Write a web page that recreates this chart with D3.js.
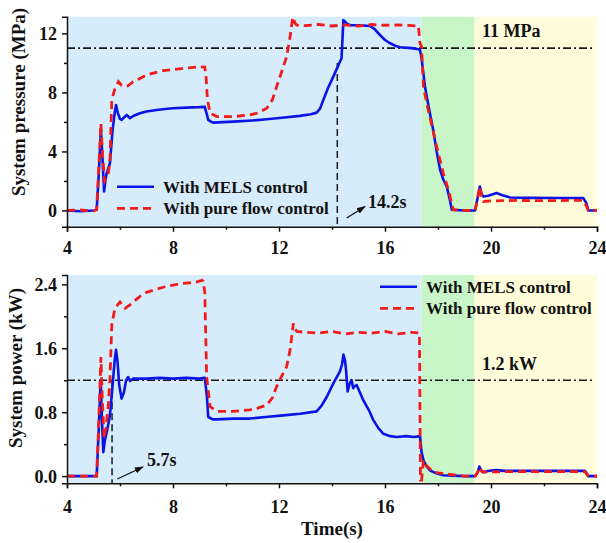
<!DOCTYPE html>
<html>
<head>
<meta charset="utf-8">
<script src="https://cdn.jsdelivr.net/npm/d3@7/dist/d3.min.js"></script>
<style>
  html, body { margin: 0; padding: 0; background: #ffffff; }
  svg text { font-family: "Liberation Serif", "Times New Roman", serif; font-weight: bold; fill: #111; }
</style>
</head>
<body>
<svg id="chart" width="606" height="543"></svg>
<script>
// ---- Time axis ----
const timeDomain = [4, 24];
const timeTicks = [4, 8, 12, 16, 20, 24];
const timeMinorTicks = [6, 10, 14, 18, 22];

// ---- Operating phases (shaded background bands) ----
const phaseStarts = [4, 17.38, 19.38];
const phaseEnds = [17.38, 19.38, 24];
const phaseColors = ["#d7ecfa", "#c9f6c9", "#fefcd9"];

// ---- System pressure (MPa) ----
const pressureTicks = [0, 4, 8, 12];
const pressureMinorTicks = [2, 6, 10];
const pressureLimit = 11;

const pressureMelsT = [4.0, 4.5, 5.0, 5.12, 5.2, 5.28, 5.34, 5.40, 5.46, 5.50, 5.62, 5.72, 5.80, 5.85, 5.92, 6.0, 6.06, 6.15, 6.25, 6.38, 6.5, 6.75, 7.0, 7.38, 7.7, 8.0, 8.5, 9.0, 9.2, 9.28, 9.33, 9.45, 9.52, 10.28, 11.0, 11.54, 12.2, 12.79, 13.2, 13.42, 13.55, 13.67, 13.85, 14.05, 14.3, 14.36, 14.43, 14.49, 14.55, 14.68, 15.0, 15.43, 15.6, 15.81, 16.0, 16.19, 16.4, 16.57, 17.0, 17.26, 17.32, 17.38, 17.51, 17.65, 17.82, 17.95, 18.08, 18.2, 18.33, 18.45, 18.52, 19.0, 19.4, 19.5, 19.58, 19.65, 19.71, 19.9, 20.21, 20.4, 20.72, 21.5, 22.5, 23.48, 23.6, 23.67, 24.0];
const pressureMels = [0, -0.05, 0, 0.05, 2.5, 5.46, 3.5, 1.29, 2.2, 2.53, 3.2, 5.46, 6.6, 7.15, 6.6, 6.2, 6.14, 6.3, 6.47, 6.25, 6.4, 6.59, 6.7, 6.81, 6.88, 6.93, 6.97, 7.0, 7.02, 6.5, 6.14, 6.0, 5.95, 6.02, 6.1, 6.18, 6.3, 6.41, 6.52, 6.63, 6.9, 7.49, 8.3, 9.07, 10.08, 10.3, 12.9, 12.8, 12.68, 12.56, 12.55, 12.5, 12.3, 11.89, 11.55, 11.33, 11.15, 11.06, 11.0, 10.92, 10.9, 10.3, 8.39, 7.0, 5.46, 4.0, 2.75, 2.1, 1.62, 0.7, 0.05, 0.0, 0.0, 0.9, 1.62, 1.1, 0.95, 1.0, 1.18, 1.05, 0.88, 0.85, 0.84, 0.84, 0.5, 0.0, 0.0];

const pressureFlowT = [4.0, 4.5, 5.0, 5.12, 5.2, 5.28, 5.34, 5.42, 5.48, 5.55, 5.62, 5.69, 5.8, 5.94, 6.05, 6.19, 6.3, 6.5, 6.75, 7.0, 7.3, 7.63, 8.0, 8.39, 8.7, 9.02, 9.2, 9.25, 9.3, 9.4, 9.65, 10.28, 10.9, 11.2, 11.54, 11.75, 11.91, 12.1, 12.29, 12.42, 12.52, 12.6, 12.67, 13.0, 13.5, 14.0, 14.5, 15.0, 15.5, 16.0, 16.5, 17.0, 17.26, 17.32, 17.38, 17.45, 17.63, 17.95, 18.2, 18.39, 18.58, 19.0, 19.4, 19.5, 19.58, 19.65, 19.71, 20.0, 21.0, 22.0, 23.0, 23.5, 23.6, 23.67, 24.0];
const pressureFlow = [0, 0.03, -0.03, 0.05, 3.0, 5.9, 3.8, 2.0, 2.2, 2.4, 3.3, 7.49, 8.2, 8.73, 8.5, 8.39, 8.45, 8.73, 8.95, 9.18, 9.33, 9.47, 9.55, 9.63, 9.68, 9.74, 9.72, 9.0, 7.5, 6.6, 6.36, 6.36, 6.48, 6.6, 6.93, 7.5, 8.39, 9.4, 10.42, 11.8, 13.1, 12.7, 12.56, 12.52, 12.6, 12.5, 12.58, 12.5, 12.6, 12.55, 12.57, 12.52, 12.5, 11.33, 11.1, 8.39, 6.81, 4.33, 2.53, 1.4, 0.05, 0.0, 0.0, 0.9, 1.62, 0.9, 0.61, 0.65, 0.68, 0.66, 0.68, 0.68, 0.3, 0.0, 0.0];

// ---- System power (kW) ----
const powerTicks = [0.0, 0.8, 1.6, 2.4];
const powerMinorTicks = [0.4, 1.2, 2.0];
const powerLimit = 1.2;

const powerMelsT = [4.0, 4.5, 5.0, 5.12, 5.2, 5.27, 5.32, 5.37, 5.43, 5.50, 5.62, 5.72, 5.80, 5.85, 5.91, 5.97, 6.06, 6.15, 6.23, 6.31, 6.38, 6.5, 7.0, 7.5, 8.0, 8.5, 9.0, 9.2, 9.28, 9.33, 9.5, 9.65, 10.3, 10.9, 11.5, 12.16, 12.8, 13.42, 13.6, 13.8, 14.05, 14.3, 14.38, 14.43, 14.49, 14.53, 14.59, 14.66, 14.74, 14.8, 14.83, 14.93, 15.18, 15.4, 15.56, 15.75, 15.94, 16.2, 16.44, 16.8, 17.1, 17.32, 17.38, 17.45, 17.57, 17.7, 17.9, 18.2, 19.0, 19.4, 19.5, 19.56, 19.63, 19.69, 20.0, 20.21, 20.5, 21.5, 22.5, 23.55, 23.62, 23.67, 24.0];
const powerMels = [0, 0, 0, 0.0, 0.6, 1.2, 0.7, 0.30, 0.45, 0.55, 0.76, 1.14, 1.45, 1.58, 1.42, 1.14, 0.97, 1.05, 1.2, 1.24, 1.19, 1.22, 1.22, 1.23, 1.22, 1.23, 1.22, 1.23, 1.0, 0.74, 0.71, 0.71, 0.72, 0.72, 0.74, 0.76, 0.78, 0.81, 0.88, 0.99, 1.16, 1.31, 1.4, 1.52, 1.45, 1.33, 1.06, 1.15, 1.2, 1.1, 1.12, 1.14, 0.95, 0.82, 0.70, 0.6, 0.53, 0.5, 0.49, 0.5, 0.49, 0.5, 0.3, 0.2, 0.12, 0.07, 0.04, 0.01, 0.0, 0.0, 0.05, 0.12, 0.07, 0.05, 0.07, 0.075, 0.066, 0.066, 0.066, 0.066, 0.03, 0.0, 0.0];

const powerFlowT = [4.0, 5.0, 5.12, 5.2, 5.28, 5.33, 5.40, 5.47, 5.55, 5.62, 5.69, 5.75, 5.81, 6.0, 6.19, 6.4, 6.75, 7.0, 7.38, 7.7, 8.01, 8.3, 8.64, 8.9, 9.1, 9.14, 9.2, 9.27, 9.40, 9.65, 10.28, 10.9, 11.2, 11.54, 11.75, 11.91, 12.1, 12.29, 12.42, 12.54, 12.6, 12.67, 13.0, 13.5, 14.0, 14.5, 15.0, 15.5, 16.0, 16.5, 17.0, 17.3, 17.32, 17.34, 17.38, 17.45, 17.5, 17.6, 17.82, 18.2, 19.0, 19.4, 19.5, 19.56, 19.65, 19.75, 20.5, 21.5, 22.5, 23.55, 23.62, 23.67, 24.0];
const powerFlow = [0, 0, 0.0, 0.7, 1.49, 1.0, 0.47, 0.6, 0.85, 1.2, 1.89, 2.0, 2.1, 2.18, 2.1, 2.15, 2.25, 2.3, 2.34, 2.37, 2.39, 2.41, 2.42, 2.43, 2.45, 2.44, 2.3, 1.24, 0.87, 0.81, 0.81, 0.83, 0.85, 0.89, 0.98, 1.12, 1.25, 1.37, 1.58, 1.91, 1.85, 1.81, 1.80, 1.79, 1.81, 1.78, 1.80, 1.79, 1.81, 1.78, 1.80, 1.79, 0.8, -0.05, -0.05, 0.2, 0.16, 0.12, 0.05, 0.03, 0.0, 0.0, 0.05, 0.11, 0.06, 0.05, 0.055, 0.055, 0.055, 0.055, 0.02, 0.0, 0.0];

// ---- Annotation markers ----
const pressureMarkT = 14.2, pressureMarkTop = 10.0, pressureMarkLabel = "14.2s";
const powerMarkT = 5.7, powerMarkLabel = "5.7s";

const seriesNames = ["With MELS control", "With pure flow control"];
const seriesColors = ["#0a14e6", "#f01c1c"];

const svg = d3.select("#chart");
const left = 67, right = 597;
const x = d3.scaleLinear().domain(timeDomain).range([left, right]);

// arrowhead for annotation arrows
svg.append("defs").append("marker")
  .attr("id", "arrow").attr("viewBox", "0 0 10 10").attr("refX", 9).attr("refY", 5)
  .attr("markerWidth", 7).attr("markerHeight", 7).attr("orient", "auto")
  .append("path").attr("d", "M0,1.5 L10,5 L0,8.5 Z").attr("fill", "#111");

function panel(cfg) {
  const g = svg.append("g");
  const y = d3.scaleLinear().domain(cfg.yDomain).range([cfg.bottom, cfg.top]);
  const clipId = "clip" + cfg.id;
  svg.select("defs").append("clipPath").attr("id", clipId)
    .append("rect").attr("x", left).attr("y", cfg.top).attr("width", right - left).attr("height", cfg.bottom - cfg.top);

  // phase bands
  g.selectAll("rect.phase").data(phaseStarts).join("rect")
    .attr("class", "phase")
    .attr("x", (d) => x(d)).attr("y", cfg.top)
    .attr("width", (d, i) => x(phaseEnds[i]) - x(d))
    .attr("height", cfg.bottom - cfg.top)
    .attr("fill", (d, i) => phaseColors[i]);

  // limit line
  g.append("line")
    .attr("x1", left).attr("x2", right - 4)
    .attr("y1", y(cfg.limit)).attr("y2", y(cfg.limit))
    .attr("stroke", "#1a1a1a").attr("stroke-width", 1.6)
    .attr("stroke-dasharray", "8,3,2,3");

  // marker line
  g.append("line")
    .attr("x1", x(cfg.markT)).attr("x2", x(cfg.markT))
    .attr("y1", y(cfg.markTop)).attr("y2", cfg.bottom)
    .attr("stroke", "#1a1a1a").attr("stroke-width", 1.5)
    .attr("stroke-dasharray", "7,4");

  const line = d3.line().x((d) => x(d[0])).y((d) => y(d[1]));
  const curves = g.append("g").attr("clip-path", `url(#${clipId})`);
  curves.append("path")
    .datum(cfg.melsT.map((t, i) => [t, cfg.mels[i]]))
    .attr("d", line).attr("fill", "none")
    .attr("stroke", seriesColors[0]).attr("stroke-width", 2.6)
    .attr("stroke-linejoin", "round");
  curves.append("path")
    .datum(cfg.flowT.map((t, i) => [t, cfg.flow[i]]))
    .attr("d", line).attr("fill", "none")
    .attr("stroke", seriesColors[1]).attr("stroke-width", 2.8)
    .attr("stroke-dasharray", "8,5");

  // axes
  const yAxis = g.append("g").attr("transform", `translate(${left},0)`)
    .call(d3.axisLeft(y).tickValues(cfg.ticks).tickFormat(cfg.fmt).tickSize(5).tickPadding(5));
  g.append("g").attr("transform", `translate(${left},0)`)
    .call(d3.axisLeft(y).tickValues(cfg.minor).tickFormat("").tickSize(3))
    .select(".domain").remove();
  const xAxis = g.append("g").attr("transform", `translate(0,${cfg.bottom})`)
    .call(d3.axisBottom(x).tickValues(timeTicks).tickFormat(d3.format("d")).tickSize(5));
  g.append("g").attr("transform", `translate(0,${cfg.bottom})`)
    .call(d3.axisBottom(x).tickValues(timeMinorTicks).tickFormat("").tickSize(3))
    .select(".domain").remove();

  [yAxis, xAxis].forEach((a) => {
    a.select(".domain").attr("stroke", "#111").attr("stroke-width", 1.5);
    a.selectAll(".tick line").attr("stroke", "#111").attr("stroke-width", 1.5);
    a.selectAll(".tick text").style("font-size", "18px")
      .style("font-family", '"Liberation Serif", "Times New Roman", serif').style("font-weight", "bold").attr("fill", "#111");
  });
  g.selectAll(".tick line").attr("stroke", "#111").attr("stroke-width", 1.5);
  yAxis.selectAll(".tick text").attr("dy", "0.34em");
  xAxis.selectAll(".tick text").attr("dy", null).attr("y", cfg.xLabelY);

  // y title
  g.append("text")
    .attr("transform", `translate(${cfg.titleX},${cfg.titleY}) rotate(-90)`)
    .attr("text-anchor", "middle").style("font-size", "19px")
    .text(cfg.title);

  // limit label
  g.append("text").attr("x", 482).attr("y", cfg.limitLabelY)
    .style("font-size", "18px").text(cfg.limitLabel);

  // marker annotation
  g.append("line")
    .attr("x1", cfg.arrow[0]).attr("y1", cfg.arrow[1])
    .attr("x2", cfg.arrow[2]).attr("y2", cfg.arrow[3])
    .attr("stroke", "#111").attr("stroke-width", 1.3)
    .attr("marker-end", "url(#arrow)");
  g.append("text").attr("x", cfg.markLabelX).attr("y", cfg.markLabelY)
    .style("font-size", "18px").text(cfg.markLabel);

  // legend
  const lg = g.append("g");
  seriesNames.forEach((name, i) => {
    const ly = cfg.legendY + i * 21.7;
    lg.append("line")
      .attr("x1", cfg.legendX).attr("x2", cfg.legendX + 37)
      .attr("y1", ly).attr("y2", ly)
      .attr("stroke", seriesColors[i]).attr("stroke-width", i ? 2.8 : 2.6)
      .attr("stroke-dasharray", i ? "8,5" : null);
    lg.append("text").attr("x", cfg.legendX + 46).attr("y", ly + 6)
      .style("font-size", "17px").text(name);
  });
  return y;
}

panel({
  id: "P", top: 16.7, bottom: 226.7, yDomain: [-1.1, 13.13],
  ticks: pressureTicks, minor: pressureMinorTicks, fmt: d3.format("d"),
  limit: pressureLimit, limitLabel: pressureLimit + " MPa", limitLabelY: 37,
  markT: pressureMarkT, markTop: pressureMarkTop, markLabel: pressureMarkLabel,
  markLabelX: 368, markLabelY: 208, arrow: [346.7, 218, 365, 206.5],
  melsT: pressureMelsT, mels: pressureMels, flowT: pressureFlowT, flow: pressureFlow,
  title: "System pressure (MPa)", titleX: 25, titleY: 102, xLabelY: 27,
  legendX: 117, legendY: 186.7
});

panel({
  id: "W", top: 275, bottom: 483.3, yDomain: [-0.09, 2.517],
  ticks: powerTicks, minor: powerMinorTicks, fmt: d3.format(".1f"),
  limit: powerLimit, limitLabel: powerLimit + " kW", limitLabelY: 370,
  markT: powerMarkT, markTop: powerLimit, markLabel: powerMarkLabel,
  markLabelX: 147, markLabelY: 466, arrow: [117.3, 479, 143, 467],
  melsT: powerMelsT, mels: powerMels, flowT: powerFlowT, flow: powerFlow,
  title: "System power (kW)", titleX: 22, titleY: 368, xLabelY: 30,
  legendX: 380, legendY: 286.7
});

svg.append("text").attr("x", (left + right) / 2).attr("y", 535)
  .attr("text-anchor", "middle").style("font-size", "19px").text("Time(s)");
</script>
</body>
</html>
